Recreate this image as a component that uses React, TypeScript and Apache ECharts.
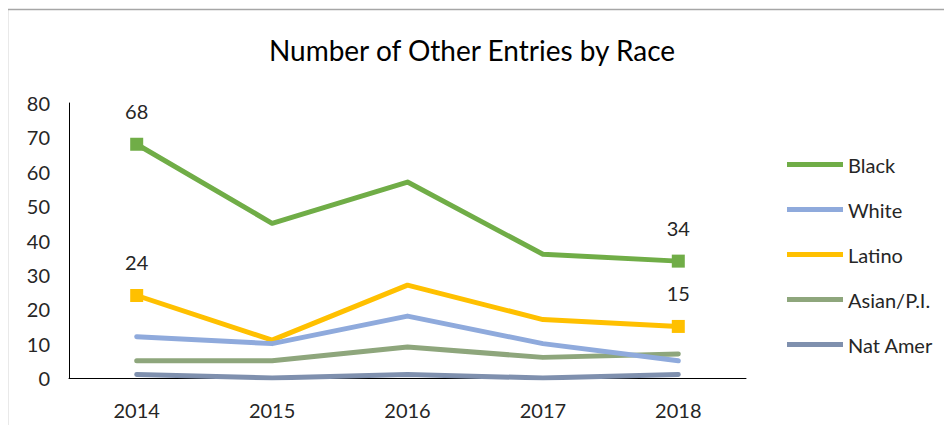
import React, { useEffect, useRef } from "react";
import * as echarts from "echarts";

const years = ["2014", "2015", "2016", "2017", "2018"];
const black = [68, 45, 57, 36, 34];
const white = [12, 10, 18, 10, 5];
const latino = [24, 11, 27, 17, 15];
const asian = [5, 5, 9, 6, 7];
const natAmer = [1, 0, 1, 0, 1];
const seriesNames = ["Black", "White", "Latino", "Asian/P.I.", "Nat Amer"];
const colors = ["#70AD47", "#8FAADC", "#FFC000", "#8EA67C", "#7F90AE"];
const yTicks = { min: 0, max: 80, interval: 10 };

const FONT = "Lato";
const TXT = "#262626";

export default function App() {
  const ref = useRef<HTMLDivElement>(null);
  useEffect(() => {
    const chart = echarts.init(ref.current!, null, { renderer: "svg" });
    const datas = [black, white, latino, asian, natAmer];
    const endpointLabels = [true, false, true, false, false];
    const series = datas.map((d, i) => ({
      name: seriesNames[i],
      type: "line",
      data: d.map((v, j) => {
        const isEnd = endpointLabels[i] && (j === 0 || j === d.length - 1);
        return isEnd
          ? {
              value: v,
              symbol: "rect",
              symbolSize: 13,
              label: {
                show: true,
                position: "top",
                distance: 17,
                color: TXT,
                fontFamily: FONT,
                fontSize: 20,
              },
            }
          : { value: v, symbol: "none" };
      }),
      showSymbol: true,
      symbol: "none",
      lineStyle: { width: 5, color: colors[i], cap: "round", join: "round" },
      itemStyle: { color: colors[i] },
      z: 10 - i,
    }));
    chart.setOption({
      animation: false,
      backgroundColor: "#ffffff",
      title: {
        text: "Number of Other Entries by Race",
        left: 467,
        top: 31,
        textAlign: "center",
        textStyle: { fontFamily: FONT, fontSize: 28, fontWeight: "normal", color: "#000" },
      },
      legend: {
        orient: "vertical",
        left: 782,
        top: 147,
        icon: "rect",
        itemWidth: 56,
        itemHeight: 5,
        itemGap: 20,
        data: seriesNames,
        textStyle: { fontFamily: FONT, fontSize: 20, color: TXT, lineHeight: 25, padding: [0, 0, 0, 0] },
      },
      grid: { left: 69, right: 206, top: 103, bottom: 55, containLabel: false },
      xAxis: {
        type: "category",
        data: years,
        boundaryGap: true,
        axisLine: { lineStyle: { color: "#000", width: 1 } },
        axisTick: { show: false },
        axisLabel: { color: TXT, fontFamily: FONT, fontSize: 20, margin: 22 },
      },
      yAxis: {
        type: "value",
        min: yTicks.min,
        max: yTicks.max,
        interval: yTicks.interval,
        axisLine: { show: true, lineStyle: { color: "#000", width: 1 } },
        axisTick: { show: false },
        splitLine: { show: false },
        axisLabel: { color: TXT, fontFamily: FONT, fontSize: 20, margin: 19 },
      },
      graphic: [
        {
          type: "polyline",
          shape: { points: [[7.5, 440], [7.5, 9.5], [960, 9.5]] },
          style: { stroke: "#a6a6a6", lineWidth: 1.5, fill: "none" },
          silent: true,
        },
      ],
      series,
    });
    return () => chart.dispose();
  }, []);
  return <div ref={ref} style={{ width: 952, height: 433, margin: -8 }} />;
}
